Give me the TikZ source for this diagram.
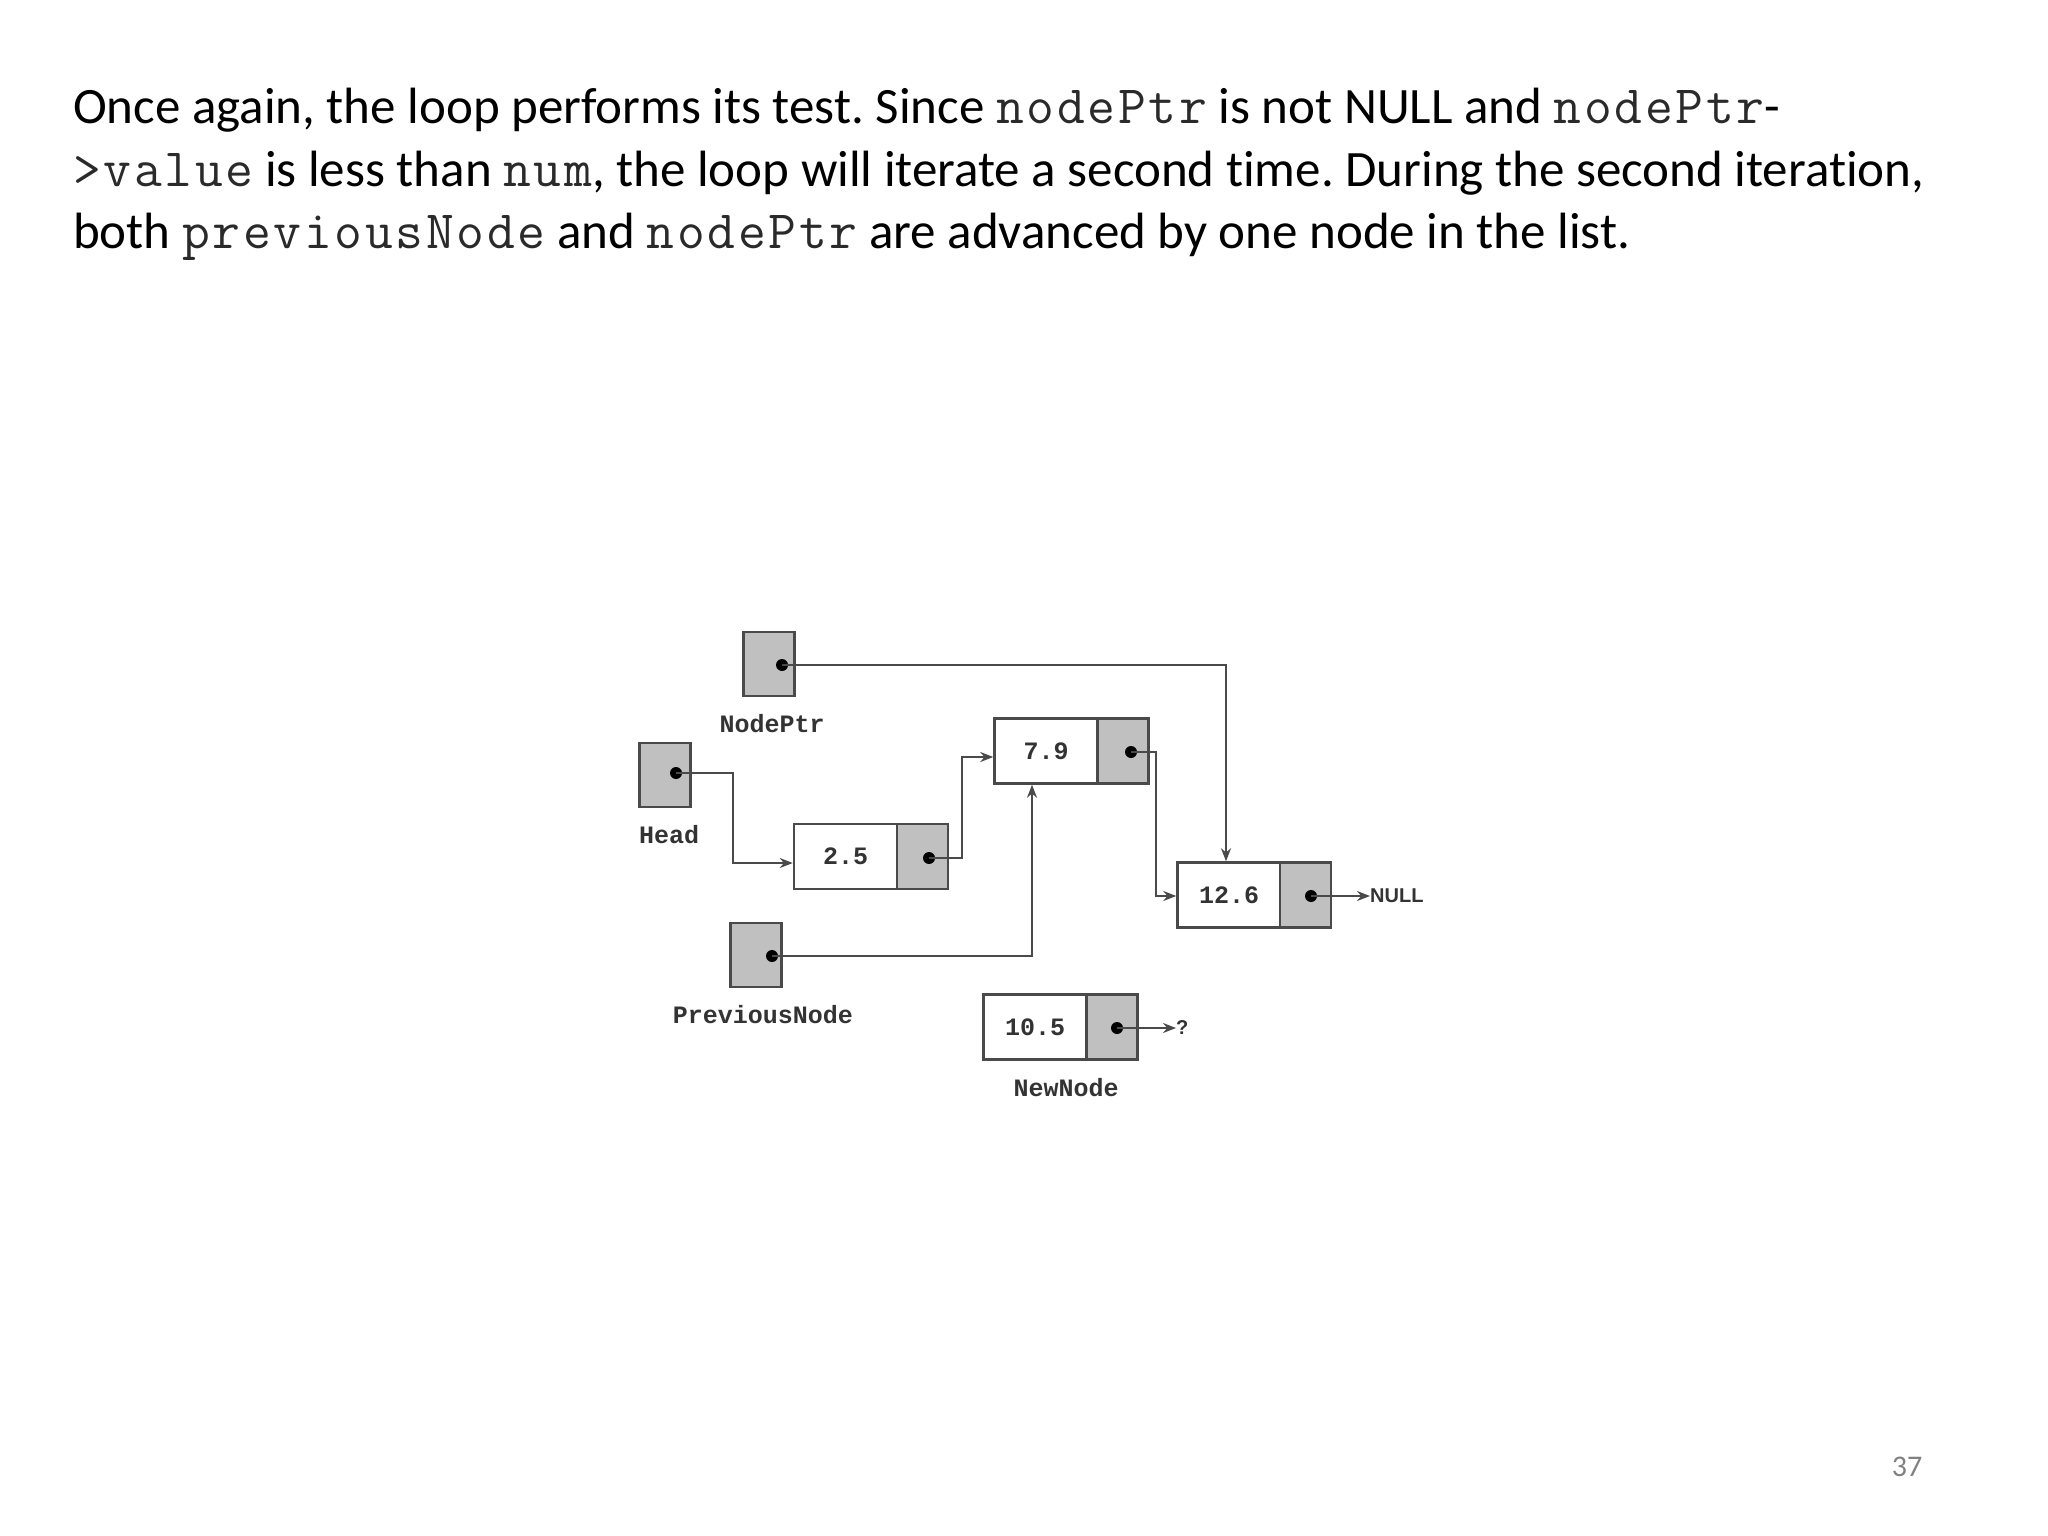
\documentclass[tikz,border=0pt]{standalone}
\usepackage{fontspec}
\setmainfont{Carlito}[Ligatures=NoCommon]
\newfontfamily\codefont{Latin Modern Mono}[LetterSpace=5]
\newfontfamily\diafont{Liberation Mono}
\newfontfamily\arialfont{Liberation Sans}
\usetikzlibrary{arrows.meta}
\frenchspacing
\definecolor{boxgray}{HTML}{C0C0C0}
\definecolor{linegray}{HTML}{4A4A4A}
\definecolor{labgray}{HTML}{333333}
\definecolor{numgray}{HTML}{808080}
\definecolor{codegray}{HTML}{2A2A2A}
\tikzset{
  para/.style={anchor=base west, inner sep=0pt, font=\fontsize{51}{60}\selectfont},
  ptrbox/.style={draw=linegray, line width=2.5pt, fill=boxgray, minimum width=51pt, minimum height=64pt, inner sep=0pt},
  valbox/.style={draw=linegray, line width=2.5pt, fill=white, minimum width=103pt, minimum height=65pt, inner sep=0pt, text=labgray, font=\diafont\bfseries\fontsize{25}{25}\selectfont},
  lab/.style={inner sep=0pt, text=labgray, font=\diafont\bfseries\fontsize{25}{25}\selectfont},
  dot/.style={circle, fill=black, inner sep=0pt, minimum size=12pt},
  conn/.style={draw=linegray, line width=2pt},
  arr/.style={conn, -{Stealth[length=13pt,width=10pt]}},
}
\newcommand{\cd}[1]{{\codefont\fontsize{54}{60}\selectfont\color{codegray}#1}}
\begin{document}
\begin{tikzpicture}[x=1pt,y=-1pt]
\useasboundingbox (0,0) rectangle (2048,1536);
% paragraph
\node[para] (l1) at (73,124) {Once again, the loop performs its test. Since \cd{nodePtr} is not NULL and \cd{nodePtr}-};
\node[para] (l2) at (73,186) {\cd{>value} is less than \cd{num}, the loop will iterate a second time. During the second iteration,};
\node[para] (l3) at (73,248) {both \cd{previousNode} and \cd{nodePtr} are advanced by one node in the list.};
% pointer variables
\node[ptrbox] (np) at (769,664) {};
\node[ptrbox] (hd) at (665,775) {};
\node[ptrbox] (pn) at (756,955) {};
\node[lab] (npl) at (772,724) {NodePtr};
\node[lab] (hdl) at (669,835) {Head};
\node[lab] (pnl) at (763,1015) {PreviousNode};
% list nodes
\node[valbox] (v25) at (845.5,856.5) {2.5};
\node[ptrbox, minimum height=65pt] (p25) at (922.5,856.5) {};
\node[valbox] (v79) at (1046,751) {7.9};
\node[ptrbox, minimum height=65pt] (p79) at (1123,751) {};
\node[valbox] (v126) at (1229,895) {12.6};
\node[ptrbox, minimum height=65pt] (p126) at (1305.5,895) {};
\node[valbox] (v105) at (1035,1027) {10.5};
\node[ptrbox, minimum height=65pt] (p105) at (1112,1027) {};
\node[lab] (nnl) at (1066,1088) {NewNode};
% dots
\node[dot] (dnp) at (782,665) {};
\node[dot] (dhd) at (676,773) {};
\node[dot] (dpn) at (772,956) {};
\node[dot] (d25) at (929,858) {};
\node[dot] (d79) at (1131,752) {};
\node[dot] (d126) at (1311,896) {};
\node[dot] (d105) at (1117,1028) {};
% end labels
\node[inner sep=0pt, anchor=west, text=labgray, font=\arialfont\bfseries\fontsize{20}{20}\selectfont] (null) at (1370,896) {NULL};
\node[inner sep=0pt, anchor=west, text=labgray, font=\arialfont\bfseries\fontsize{20}{20}\selectfont] (q) at (1176,1028) {?};
% connectors
\draw[arr] (dhd.center) -- (733,773) -- (733,863) -- (v25.west |- 0,863);
\draw[arr] (d25.center) -- (962,858) -- (962,757) -- (v79.west |- 0,757);
\draw[arr] (d79.center) -- (1156,752) -- (1156,896) -- (v126.west |- 0,896);
\draw[arr] (dnp.center) -- (1226,665) -- (v126.north -| 1226,0);
\draw[arr] (dpn.center) -- (1032,956) -- (v79.south -| 1032,0);
\draw[arr] (d126.center) -- (null.west);
\draw[arr] (d105.center) -- (q.west);
% page number
\node[inner sep=0pt, anchor=base, text=numgray, font=\fontsize{30}{30}\selectfont] (pg) at (1907,1476) {37};
\end{tikzpicture}
\end{document}
